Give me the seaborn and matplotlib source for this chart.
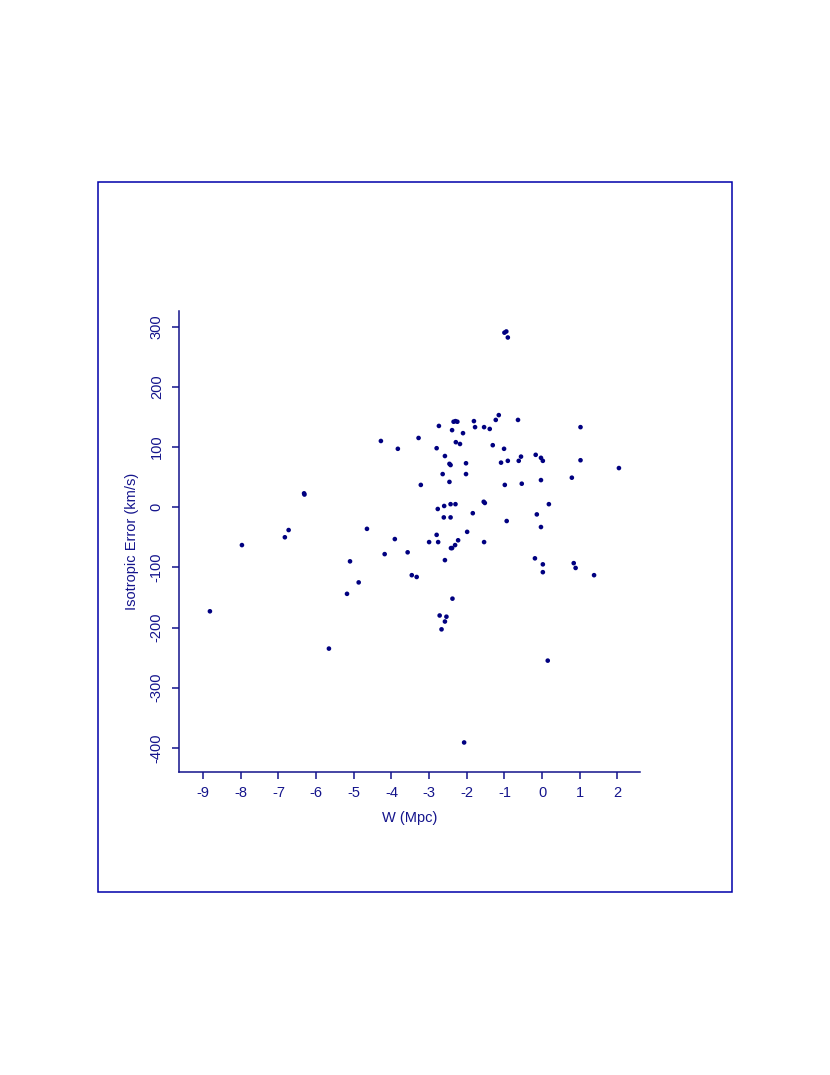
import matplotlib
matplotlib.use('Agg')
import matplotlib.pyplot as plt
from matplotlib.patches import Rectangle
import seaborn as sns
import pandas as pd

# W (Mpc) values
w_mpc = [
    -8.82, -7.97, -6.83, -6.73, -6.32, -6.31, -5.66, -5.18, -5.10, -4.87,
    -4.65, -4.28, -4.18, -3.91, -3.83, -3.57, -3.46, -3.33, -3.28, -3.22,
    -3.00, -2.80, -2.80, -2.77, -2.76, -2.74, -2.72, -2.67, -2.64, -2.61,
    -2.60, -2.58, -2.58, -2.58, -2.54, -2.46, -2.46, -2.43, -2.43, -2.43,
    -2.42, -2.39, -2.39, -2.38, -2.35, -2.31, -2.30, -2.30, -2.29, -2.25,
    -2.23, -2.18, -2.10, -2.07, -2.02, -2.02, -1.99, -1.84, -1.81, -1.78,
    -1.55, -1.54, -1.54, -1.52, -1.39, -1.31, -1.23, -1.15, -1.09, -1.01,
    -1.00, -0.99, -0.95, -0.94, -0.91, -0.91, -0.64, -0.62, -0.56, -0.54,
    -0.19, -0.17, -0.14, -0.03, -0.03, -0.03, 0.02, 0.02, 0.02, 0.15,
    0.18, 0.79, 0.84, 0.89, 1.02, 1.02, 1.38, 2.04,
]

# isotropic error (km/s)
iso_err = [
    -173, -63, -50, -38, 23, 21, -235, -144, -90, -125,
    -36, 110, -78, -53, 97, -75, -113, -116, 115, 37,
    -58, 98, -46, -3, -58, 135, -180, -203, 55, -17,
    2, 85, -88, -190, -182, 72, 42, 70, 5, -17,
    -68, 128, -68, -152, 142, -63, 143, 5, 108, 142,
    -55, 105, 123, -391, 73, 55, -41, -10, 143, 133,
    9, 133, -58, 7, 130, 103, 145, 153, 74, 97,
    290, 37, 292, -23, 282, 77, 145, 77, 84, 39,
    -85, 87, -12, 82, 45, -33, 77, -95, -108, -255,
    5, 49, -93, -101, 133, 78, -113, 65,
]

x_ticks = [-9, -8, -7, -6, -5, -4, -3, -2, -1, 0, 1, 2]
y_ticks = [-400, -300, -200, -100, 0, 100, 200, 300]

df = pd.DataFrame({'W': w_mpc, 'err': iso_err})

ink = '#14148c'
plt.rcParams['font.family'] = ['Liberation Sans', 'DejaVu Sans']

fig = plt.figure(figsize=(8.3, 10.75), dpi=100)
ax = fig.add_axes([0.2157, 0.2819, 0.5554, 0.4288])

sns.scatterplot(data=df, x='W', y='err', ax=ax, color='#000080',
                s=11, edgecolor='none', linewidth=0)

ax.set_xlim(-9.64, 2.60)
ax.set_ylim(-440, 326)
ax.set_xticks(x_ticks)
ax.set_yticks(y_ticks)
ax.set_xticklabels([str(t) for t in x_ticks])
ax.set_yticklabels([str(t) for t in y_ticks], rotation=90, va='center')

for side in ['top', 'right']:
    ax.spines[side].set_visible(False)
for side in ['left', 'bottom']:
    ax.spines[side].set_color(ink)
    ax.spines[side].set_linewidth(1.1)

ax.tick_params(axis='both', colors=ink, labelcolor=ink, direction='out',
               length=5, width=1.1, labelsize=10.5)
ax.tick_params(axis='x', pad=5)
ax.tick_params(axis='y', pad=6)

ax.set_xlabel('W (Mpc)', color=ink, fontsize=10.5, labelpad=8)
ax.set_ylabel('Isotropic Error (km/s)', color=ink, fontsize=10.5, labelpad=8)

# outer frame around the plot
frame = Rectangle((0.1177, 0.1700), 0.7646, 0.6605, transform=fig.transFigure,
                  fill=False, edgecolor='#0000aa', linewidth=1.1)
fig.patches.append(frame)

fig.savefig('out.png', dpi=100)
